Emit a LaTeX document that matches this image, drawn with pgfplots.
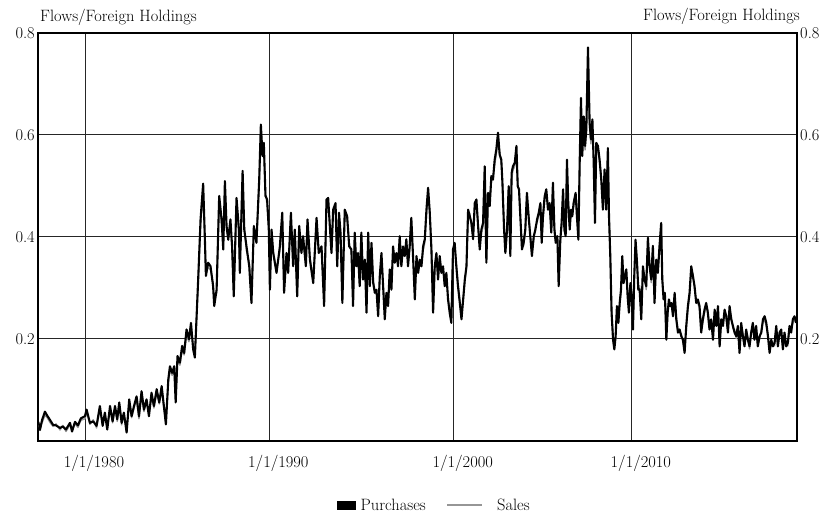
\documentclass[border=0pt]{standalone}
\usepackage{pgfplots}
\usepackage{pgfplotstable}
\pgfplotsset{compat=1.18}
\definecolor{salesgray}{RGB}{150,150,150}

\pgfplotstableread{
year purch sales
1977.47 0.037 0.030
1977.56 0.021 0.025
1977.67 0.040 0.034
1977.83 0.057 0.050
1977.94 0.050 0.046
1978.10 0.041 0.036
1978.27 0.031 0.028
1978.43 0.030 0.033
1978.65 0.025 0.021
1978.80 0.028 0.030
1978.97 0.022 0.018
1979.19 0.035 0.031
1979.30 0.018 0.022
1979.46 0.037 0.033
1979.62 0.030 0.026
1979.78 0.044 0.040
1980.00 0.048 0.043
1980.09 0.061 0.055
1980.27 0.035 0.032
1980.45 0.038 0.041
1980.63 0.029 0.025
1980.81 0.068 0.060
1980.96 0.029 0.034
1981.08 0.055 0.049
1981.21 0.022 0.027
1981.36 0.068 0.061
1981.50 0.038 0.035
1981.63 0.068 0.063
1981.75 0.042 0.038
1981.86 0.075 0.068
1981.99 0.035 0.031
1982.11 0.055 0.052
1982.26 0.016 0.022
1982.40 0.081 0.074
1982.53 0.048 0.045
1982.66 0.068 0.064
1982.80 0.087 0.080
1982.93 0.048 0.043
1983.07 0.097 0.089
1983.20 0.061 0.057
1983.34 0.081 0.077
1983.47 0.048 0.052
1983.61 0.094 0.086
1983.74 0.068 0.064
1983.89 0.101 0.093
1984.03 0.075 0.072
1984.16 0.107 0.099
1984.28 0.068 0.063
1984.39 0.032 0.040
1984.52 0.120 0.112
1984.61 0.146 0.138
1984.73 0.133 0.128
1984.84 0.146 0.140
1984.92 0.075 0.085
1985.02 0.166 0.157
1985.15 0.153 0.148
1985.27 0.186 0.177
1985.38 0.172 0.168
1985.51 0.218 0.207
1985.64 0.199 0.194
1985.75 0.231 0.220
1985.87 0.179 0.185
1985.96 0.163 0.170
1986.14 0.316 0.305
1986.27 0.434 0.420
1986.41 0.504 0.490
1986.50 0.401 0.392
1986.56 0.323 0.330
1986.68 0.349 0.340
1986.81 0.342 0.335
1986.95 0.303 0.310
1987.01 0.264 0.275
1987.14 0.296 0.290
1987.28 0.480 0.466
1987.41 0.434 0.425
1987.50 0.375 0.381
1987.59 0.509 0.494
1987.68 0.421 0.412
1987.77 0.394 0.399
1987.89 0.434 0.425
1987.98 0.381 0.372
1988.07 0.283 0.292
1988.22 0.476 0.462
1988.35 0.414 0.405
1988.40 0.329 0.338
1988.55 0.529 0.512
1988.64 0.414 0.420
1988.76 0.381 0.372
1988.91 0.342 0.349
1989.03 0.270 0.281
1989.16 0.421 0.410
1989.30 0.388 0.395
1989.45 0.512 0.498
1989.54 0.620 0.606
1989.63 0.558 0.565
1989.70 0.584 0.570
1989.79 0.480 0.488
1989.88 0.473 0.460
1989.97 0.414 0.420
1990.03 0.296 0.305
1990.12 0.414 0.402
1990.21 0.368 0.373
1990.39 0.329 0.335
1990.57 0.381 0.372
1990.70 0.447 0.436
1990.80 0.290 0.298
1990.93 0.368 0.360
1991.02 0.329 0.336
1991.17 0.447 0.434
1991.29 0.342 0.350
1991.38 0.414 0.405
1991.51 0.283 0.292
1991.62 0.421 0.410
1991.74 0.368 0.374
1991.83 0.401 0.392
1991.98 0.342 0.350
1992.07 0.434 0.422
1992.20 0.355 0.362
1992.38 0.309 0.316
1992.56 0.437 0.425
1992.68 0.368 0.374
1992.83 0.381 0.372
1992.97 0.264 0.274
1993.10 0.473 0.460
1993.19 0.476 0.468
1993.28 0.421 0.428
1993.37 0.368 0.374
1993.46 0.453 0.442
1993.59 0.466 0.455
1993.68 0.342 0.350
1993.78 0.447 0.436
1993.86 0.407 0.414
1993.96 0.270 0.280
1994.09 0.453 0.442
1994.22 0.440 0.432
1994.33 0.381 0.388
1994.45 0.375 0.368
1994.54 0.264 0.272
1994.63 0.408 0.398
1994.72 0.342 0.349
1994.81 0.368 0.360
1994.90 0.303 0.310
1994.99 0.408 0.398
1995.08 0.316 0.323
1995.18 0.355 0.348
1995.27 0.251 0.260
1995.36 0.408 0.396
1995.45 0.303 0.310
1995.54 0.388 0.379
1995.63 0.310 0.316
1995.72 0.290 0.296
1995.81 0.296 0.290
1995.90 0.244 0.252
1995.99 0.323 0.316
1996.08 0.368 0.360
1996.17 0.303 0.309
1996.26 0.238 0.246
1996.35 0.290 0.284
1996.44 0.264 0.270
1996.53 0.336 0.328
1996.62 0.296 0.302
1996.71 0.381 0.372
1996.80 0.349 0.355
1996.89 0.368 0.360
1996.98 0.342 0.348
1997.07 0.401 0.392
1997.16 0.342 0.349
1997.25 0.381 0.373
1997.34 0.362 0.368
1997.43 0.395 0.386
1997.52 0.342 0.349
1997.61 0.381 0.374
1997.70 0.437 0.425
1997.80 0.355 0.362
1997.89 0.277 0.285
1997.98 0.362 0.355
1998.07 0.329 0.335
1998.16 0.355 0.348
1998.25 0.342 0.348
1998.34 0.381 0.372
1998.43 0.395 0.388
1998.52 0.453 0.441
1998.61 0.496 0.482
1998.70 0.447 0.452
1998.79 0.375 0.382
1998.88 0.251 0.262
1998.97 0.342 0.335
1999.06 0.368 0.360
1999.15 0.316 0.323
1999.24 0.362 0.355
1999.33 0.329 0.335
1999.42 0.342 0.336
1999.51 0.303 0.310
1999.60 0.329 0.322
1999.69 0.277 0.284
1999.78 0.251 0.258
1999.87 0.231 0.240
1999.96 0.375 0.366
2000.05 0.388 0.380
2000.14 0.342 0.349
2000.23 0.303 0.310
2000.33 0.270 0.277
2000.42 0.238 0.246
2000.51 0.277 0.272
2000.60 0.316 0.310
2000.69 0.342 0.336
2000.78 0.453 0.440
2000.87 0.440 0.446
2000.96 0.427 0.420
2001.05 0.395 0.402
2001.14 0.466 0.455
2001.23 0.473 0.464
2001.32 0.421 0.428
2001.41 0.375 0.382
2001.50 0.414 0.406
2001.59 0.427 0.420
2001.68 0.538 0.522
2001.77 0.349 0.360
2001.86 0.486 0.474
2001.95 0.460 0.466
2002.04 0.519 0.507
2002.13 0.512 0.518
2002.22 0.551 0.540
2002.31 0.571 0.562
2002.40 0.604 0.590
2002.49 0.561 0.568
2002.58 0.551 0.542
2002.64 0.506 0.512
2002.73 0.414 0.420
2002.80 0.368 0.375
2002.89 0.414 0.406
2002.98 0.499 0.488
2003.07 0.362 0.370
2003.14 0.525 0.512
2003.21 0.538 0.530
2003.31 0.545 0.538
2003.40 0.578 0.565
2003.47 0.499 0.506
2003.54 0.493 0.486
2003.61 0.440 0.446
2003.70 0.375 0.382
2003.79 0.388 0.382
2003.88 0.414 0.408
2003.97 0.486 0.476
2004.06 0.440 0.446
2004.15 0.401 0.407
2004.24 0.362 0.370
2004.34 0.401 0.394
2004.43 0.414 0.420
2004.52 0.434 0.428
2004.61 0.447 0.440
2004.70 0.466 0.458
2004.77 0.388 0.396
2004.84 0.440 0.434
2004.93 0.479 0.470
2005.02 0.493 0.486
2005.11 0.453 0.460
2005.20 0.466 0.458
2005.29 0.408 0.415
2005.38 0.506 0.495
2005.46 0.414 0.420
2005.53 0.388 0.394
2005.62 0.401 0.396
2005.69 0.303 0.314
2005.78 0.394 0.388
2005.85 0.427 0.420
2005.93 0.493 0.484
2006.00 0.414 0.420
2006.07 0.401 0.408
2006.14 0.551 0.538
2006.21 0.466 0.472
2006.29 0.414 0.420
2006.36 0.453 0.446
2006.43 0.440 0.446
2006.50 0.466 0.458
2006.61 0.486 0.478
2006.68 0.440 0.447
2006.76 0.394 0.402
2006.83 0.545 0.532
2006.90 0.672 0.655
2006.97 0.558 0.566
2007.05 0.636 0.622
2007.12 0.578 0.570
2007.19 0.610 0.600
2007.28 0.771 0.748
2007.37 0.623 0.612
2007.44 0.591 0.582
2007.52 0.630 0.618
2007.59 0.545 0.556
2007.66 0.427 0.440
2007.73 0.584 0.572
2007.82 0.578 0.570
2007.91 0.551 0.545
2008.00 0.512 0.520
2008.09 0.453 0.462
2008.18 0.532 0.522
2008.27 0.453 0.460
2008.36 0.574 0.560
2008.42 0.440 0.450
2008.49 0.362 0.372
2008.56 0.251 0.262
2008.64 0.198 0.206
2008.71 0.179 0.188
2008.78 0.205 0.200
2008.85 0.264 0.256
2008.93 0.231 0.238
2009.00 0.270 0.264
2009.07 0.296 0.290
2009.14 0.362 0.352
2009.21 0.309 0.316
2009.29 0.323 0.318
2009.36 0.336 0.330
2009.43 0.283 0.290
2009.50 0.251 0.258
2009.58 0.309 0.302
2009.65 0.283 0.290
2009.72 0.218 0.226
2009.79 0.323 0.315
2009.86 0.394 0.385
2009.94 0.349 0.356
2010.01 0.296 0.302
2010.08 0.297 0.304
2010.17 0.238 0.246
2010.26 0.342 0.334
2010.35 0.316 0.322
2010.44 0.303 0.296
2010.53 0.398 0.386
2010.62 0.342 0.348
2010.71 0.316 0.310
2010.80 0.382 0.372
2010.89 0.270 0.278
2010.98 0.355 0.348
2011.07 0.329 0.335
2011.16 0.382 0.374
2011.25 0.427 0.412
2011.31 0.316 0.324
2011.38 0.277 0.284
2011.45 0.290 0.284
2011.53 0.198 0.206
2011.60 0.251 0.245
2011.67 0.277 0.270
2011.74 0.264 0.270
2011.81 0.270 0.264
2011.89 0.244 0.250
2011.98 0.290 0.284
2012.07 0.238 0.244
2012.16 0.212 0.218
2012.25 0.218 0.212
2012.34 0.205 0.210
2012.43 0.198 0.192
2012.52 0.172 0.180
2012.61 0.225 0.218
2012.70 0.264 0.258
2012.79 0.290 0.282
2012.88 0.342 0.332
2012.97 0.323 0.328
2013.06 0.303 0.296
2013.15 0.270 0.276
2013.24 0.277 0.270
2013.33 0.264 0.258
2013.42 0.212 0.220
2013.51 0.238 0.232
2013.60 0.257 0.250
2013.69 0.270 0.264
2013.78 0.251 0.256
2013.87 0.218 0.224
2013.96 0.238 0.232
2014.06 0.198 0.205
2014.15 0.257 0.250
2014.24 0.225 0.230
2014.33 0.264 0.256
2014.42 0.185 0.192
2014.51 0.238 0.232
2014.60 0.225 0.230
2014.69 0.257 0.250
2014.78 0.244 0.238
2014.87 0.212 0.218
2014.96 0.264 0.256
2015.05 0.238 0.244
2015.14 0.225 0.220
2015.23 0.212 0.218
2015.32 0.205 0.200
2015.41 0.225 0.220
2015.50 0.172 0.180
2015.59 0.231 0.225
2015.68 0.205 0.210
2015.77 0.185 0.190
2015.86 0.218 0.212
2015.95 0.198 0.204
2016.04 0.185 0.180
2016.13 0.212 0.206
2016.22 0.231 0.225
2016.31 0.198 0.204
2016.40 0.225 0.218
2016.49 0.185 0.190
2016.59 0.205 0.200
2016.68 0.212 0.218
2016.77 0.238 0.232
2016.86 0.244 0.236
2016.95 0.231 0.225
2017.04 0.205 0.210
2017.13 0.172 0.178
2017.22 0.198 0.192
2017.31 0.185 0.190
2017.40 0.192 0.186
2017.49 0.225 0.218
2017.58 0.185 0.190
2017.67 0.212 0.206
2017.76 0.218 0.212
2017.85 0.179 0.185
2017.94 0.212 0.206
2018.03 0.185 0.190
2018.12 0.192 0.186
2018.21 0.225 0.218
2018.30 0.212 0.218
2018.39 0.238 0.230
2018.48 0.244 0.236
2018.57 0.231 0.236
}\flowdata

\begin{document}
\begin{tikzpicture}
\useasboundingbox (-38.3bp,-77.3bp) rectangle (799.7bp,440.7bp);
\begin{axis}[
  at={(0,0)}, anchor=south west,
  scale only axis, width=758.4bp, height=408bp,
  xmin=1977.47, xmax=2018.6, ymin=0, ymax=0.8,
  xtick={1980,1990,2000,2009.66},
  xticklabels={1/1/1980,1/1/1990,1/1/2000,1/1/2010},
  ytick={0.2,0.4,0.6,0.8},
  yticklabels={0.2,0.4,0.6,0.8},
  grid=major,
  major grid style={black!85, line width=0.9bp},
  axis line style={line width=2.2bp},
  tick style={draw=none},
  ticklabel style={font=\fontsize{16.5}{19}\selectfont},
  xticklabel style={anchor=base, yshift=-26.5bp, xshift=9bp},
  yticklabel pos=left,
  legend style={at={(0.522,-0.158)}, anchor=center, draw=none, fill=none,
    legend columns=2, font=\fontsize{16.5}{19}\selectfont,
    /tikz/every even column/.append style={column sep=18bp},
    /tikz/every odd column/.append style={column sep=3bp}},
  legend cell align=left,
]
\addplot[salesgray, line width=1.4bp, line join=round, forget plot]
  table[x=year, y=sales] {\flowdata};
\addplot[black, line width=2.1bp, line join=round,
  legend image code/.code={\path[fill=black, draw=none] (0bp,-4.5bp) rectangle (19bp,4.5bp);}]
  table[x=year, y=purch] {\flowdata};
\addlegendentry{Purchases}
\addlegendimage{legend image code/.code={\path[draw=salesgray, line width=2.6bp] (0bp,0bp) -- (35bp,0bp); \path[draw=none] (0bp,0bp) -- (45bp,0bp);}}
\addlegendentry{Sales}
\end{axis}
\begin{axis}[
  at={(0,0)}, anchor=south west,
  scale only axis, width=758.4bp, height=408bp,
  xmin=1977.47, xmax=2018.6, ymin=0, ymax=0.8,
  axis x line=none, axis y line*=right,
  ytick={0.2,0.4,0.6,0.8},
  yticklabels={0.2,0.4,0.6,0.8},
  tick style={draw=none},
  axis line style={line width=2.2bp},
  ticklabel style={font=\fontsize{16.5}{19}\selectfont},
]
\addplot[draw=none] coordinates {(2000,0.4)};
\end{axis}
\node[anchor=base west, font=\fontsize{16.5}{19}\selectfont, inner sep=0pt] at (1.7bp,419.2bp) {Flows/Foreign Holdings};
\node[anchor=base east, font=\fontsize{16.5}{19}\selectfont, inner sep=0pt] at (761.7bp,419.7bp) {Flows/Foreign Holdings};
\end{tikzpicture}
\end{document}
